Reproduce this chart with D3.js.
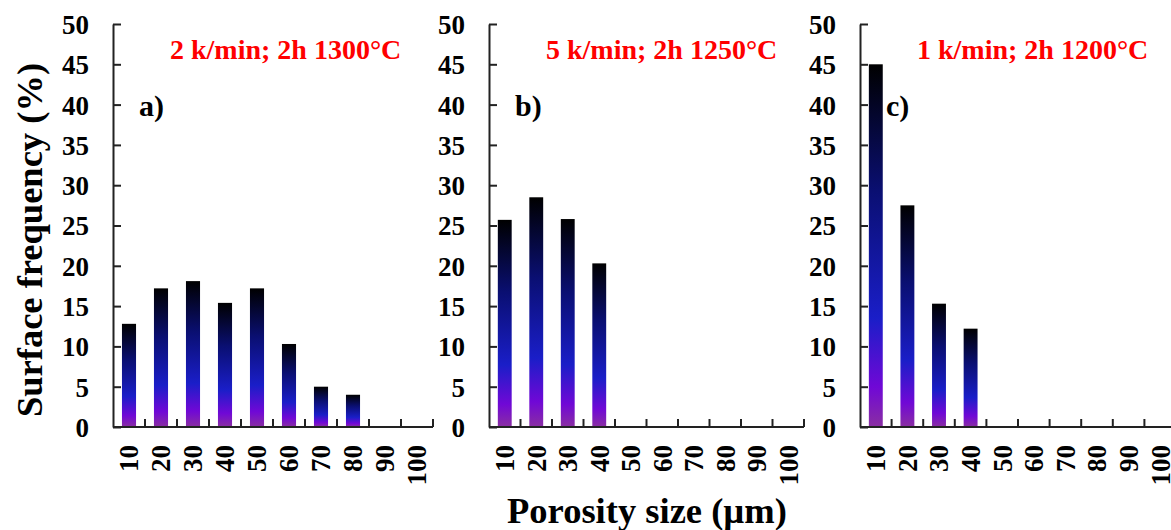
<!DOCTYPE html>
<html>
<head>
<meta charset="utf-8">
<script src="https://cdn.jsdelivr.net/npm/d3@7"></script>
<style>
  html, body { margin: 0; padding: 0; background: #fff; }
  svg { display: block; }
  text { font-family: "Liberation Serif", "DejaVu Serif", serif; font-weight: bold; }
</style>
</head>
<body>
<svg id="chart" width="1171" height="530"></svg>
<script>
const categories = ["10", "20", "30", "40", "50", "60", "70", "80", "90", "100"];
const seriesA = [12.8, 17.2, 18.1, 15.4, 17.2, 10.3, 5.0, 4.0, 0, 0];
const seriesB = [25.7, 28.5, 25.8, 20.3, 0, 0, 0, 0, 0, 0];
const seriesC = [45.0, 27.5, 15.3, 12.2, 0, 0, 0, 0, 0, 0];
const yTicks = [0, 5, 10, 15, 20, 25, 30, 35, 40, 45, 50];
const panelTitles = ["2 k/min; 2h 1300°C", "5 k/min; 2h 1250°C", "1 k/min; 2h 1200°C"];
const panelLabels = ["a)", "b)", "c)"];
const yTitle = "Surface frequency (%)";
const xTitle = "Porosity size (µm)";

const panels = [
  { data: seriesA, x0: 113, x1: 433 },
  { data: seriesB, x0: 489, x1: 804 },
  { data: seriesC, x0: 860, x1: 1176 }
];

const svg = d3.select("#chart");
const y = d3.scaleLinear().domain([0, 50]).range([427, 24]);

const defs = svg.append("defs");
const grad = defs.append("linearGradient")
  .attr("id", "barGrad").attr("x1", 0).attr("y1", 1).attr("x2", 0).attr("y2", 0);
[["0%", "#8a2fa2"], ["11%", "#7008d6"], ["30%", "#1a1ec8"], ["65%", "#0a0f72"], ["100%", "#000000"]]
  .forEach(([o, c]) => grad.append("stop").attr("offset", o).attr("stop-color", c));

panels.forEach((p, i) => {
  const x = d3.scaleBand().domain(categories).range([p.x0, p.x1])
    .paddingInner(0.56).paddingOuter(0.28);
  const step = x.step();
  const g = svg.append("g");

  // bars
  g.selectAll("rect.bar").data(p.data.map((v, k) => ({ c: categories[k], v })).filter(d => d.v > 0))
    .enter().append("rect").attr("class", "bar")
    .attr("x", d => x(d.c))
    .attr("width", x.bandwidth())
    .attr("y", d => y(d.v))
    .attr("height", d => y(0) - y(d.v))
    .attr("fill", "url(#barGrad)");

  // y axis
  const yAxis = d3.axisLeft(y).tickValues(yTicks).tickSize(-8).tickPadding(24).tickSizeOuter(0);
  const ya = g.append("g").attr("transform", `translate(${p.x0},0)`).call(yAxis);
  ya.select(".domain").attr("stroke", "#222").attr("stroke-width", 2);
  ya.selectAll(".tick line").attr("stroke", "#222").attr("stroke-width", 2);
  ya.selectAll(".tick text").attr("font-size", 27).attr("fill", "#000")
    .attr("font-family", "Liberation Serif").attr("font-weight", "bold").attr("dy", "0.35em");

  // x axis line and boundary ticks
  g.append("line").attr("x1", p.x0).attr("x2", p.x1).attr("y1", y(0)).attr("y2", y(0))
    .attr("stroke", "#222").attr("stroke-width", 2);
  d3.range(1, categories.length + 1).forEach(k => {
    g.append("line").attr("x1", p.x0 + k * step).attr("x2", p.x0 + k * step)
      .attr("y1", y(0)).attr("y2", y(0) - 8).attr("stroke", "#222").attr("stroke-width", 2);
  });

  // x tick labels (rotated)
  g.selectAll("text.xl").data(categories).enter().append("text").attr("class", "xl")
    .attr("transform", d => `translate(${x(d) + x.bandwidth() / 2},445) rotate(-90)`)
    .attr("text-anchor", "end").attr("dy", "0.35em")
    .attr("font-size", 27).attr("fill", "#000").text(d => d);

  // panel title
  g.append("text").attr("x", p.x0 + 57).attr("y", 59).attr("font-size", 28)
    .attr("fill", "#ff0000").text(panelTitles[i]);
  g.append("text").attr("x", p.x0 + 26).attr("y", 116).attr("font-size", 30)
    .attr("fill", "#000").text(panelLabels[i]);
});

svg.append("text").attr("transform", "translate(42,240) rotate(-90)")
  .attr("text-anchor", "middle").attr("font-size", 36.5).attr("fill", "#000").text(yTitle);
svg.append("text").attr("x", 647).attr("y", 523)
  .attr("text-anchor", "middle").attr("font-size", 36.5).attr("fill", "#000").text(xTitle);
</script>
</body>
</html>
